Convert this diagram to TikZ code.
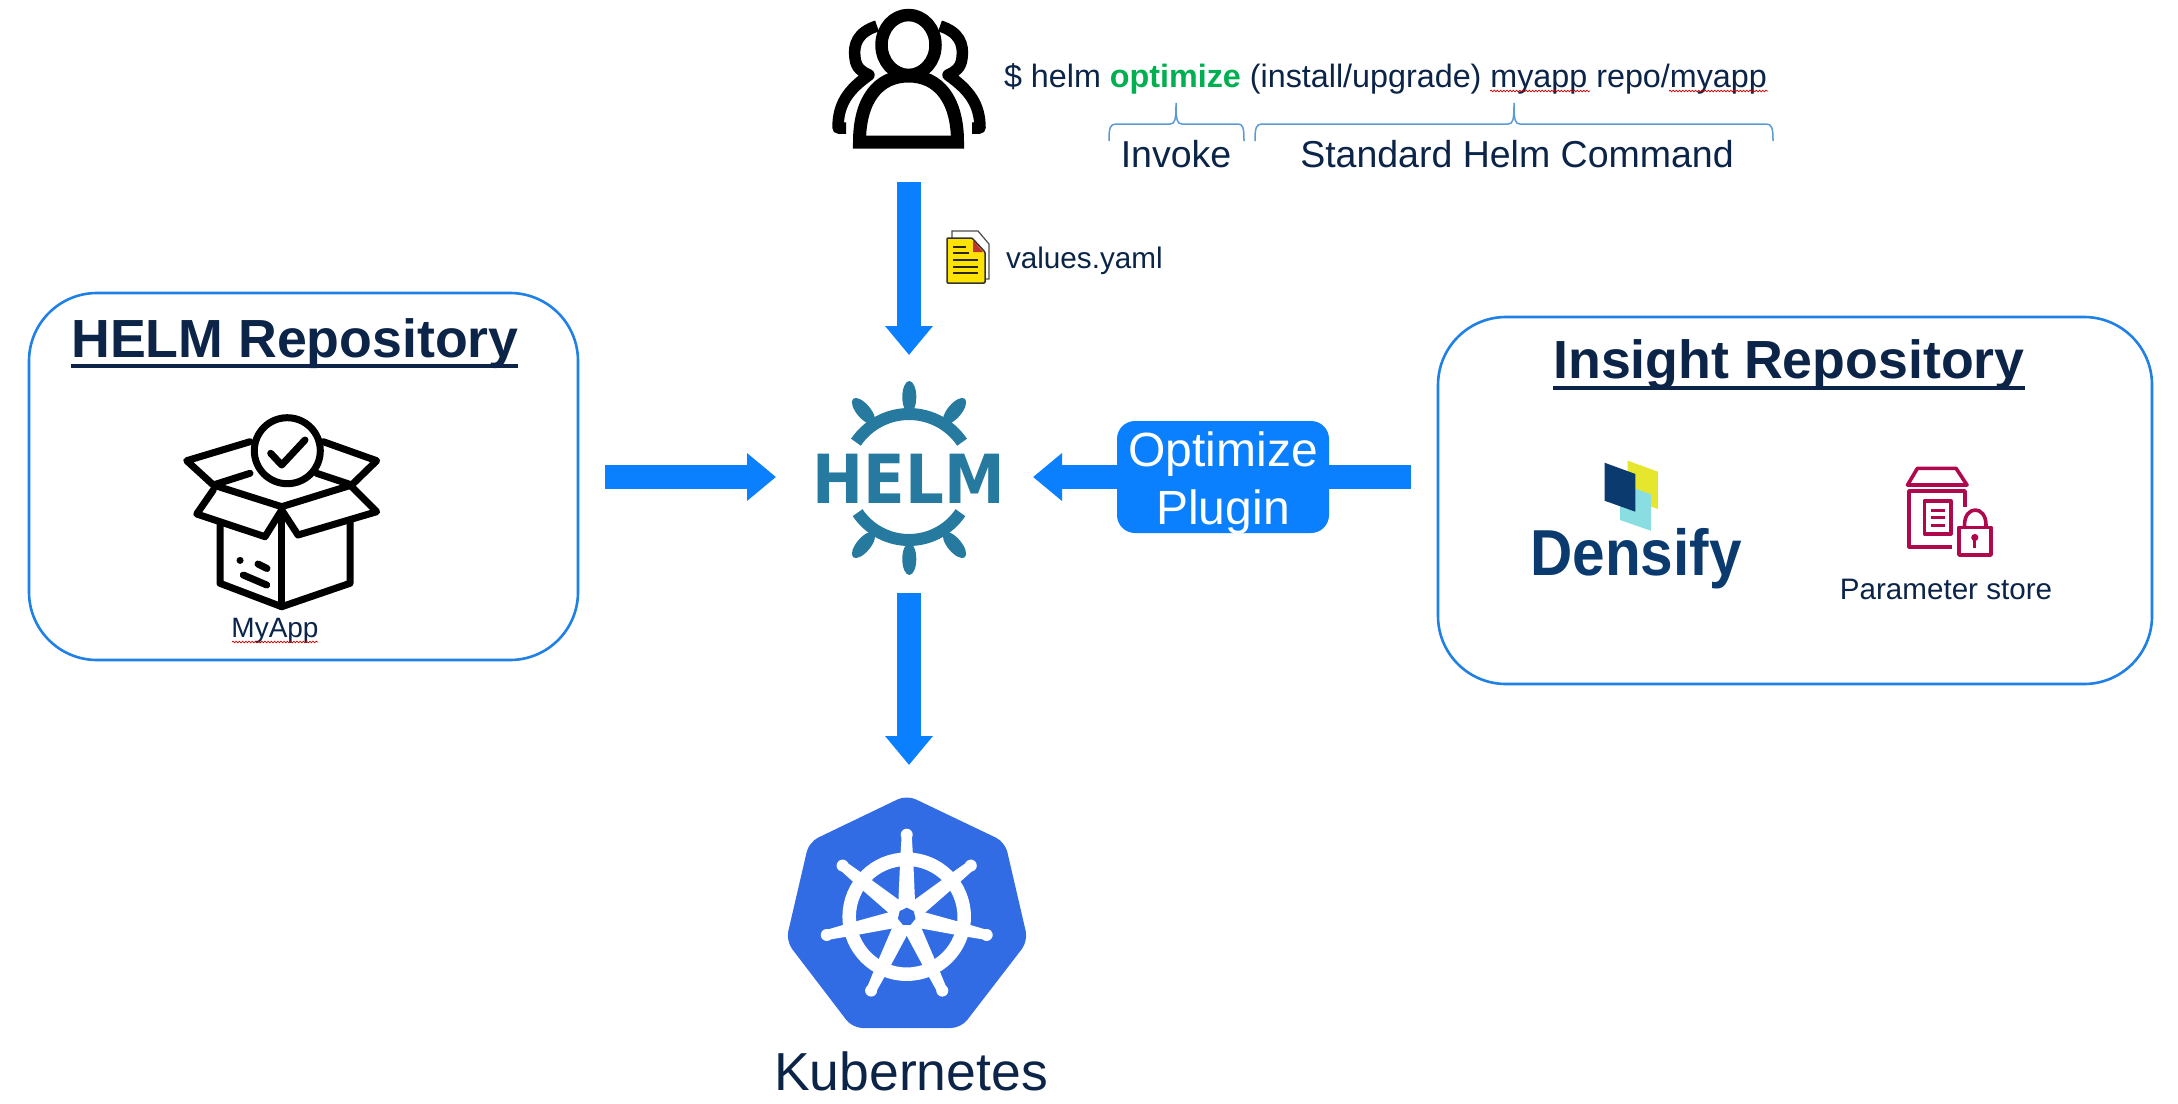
\documentclass[tikz,border=0pt]{standalone}
\usepackage{fontspec}
\setmainfont{Liberation Sans}
\newfontfamily\heavyfont{DejaVu Sans Bold}
\usetikzlibrary{arrows.meta,decorations.pathmorphing}
\newcommand\pxfont[1]{\fontsize{#1}{#1}\selectfont}
\definecolor{navy}{HTML}{0B2447}
\definecolor{flowblue}{HTML}{0A80FF}
\definecolor{boxblue}{HTML}{1F80E6}
\definecolor{bracecol}{HTML}{5B9BD5}
\definecolor{helmblue}{HTML}{277A9F}
\definecolor{kubeblue}{HTML}{326CE5}
\definecolor{greentxt}{HTML}{00B050}
\definecolor{densnavy}{HTML}{0B3A6E}
\definecolor{densyellow}{HTML}{E6E62E}
\definecolor{densteal}{HTML}{8ADDE0}
\definecolor{awsred}{HTML}{B0084D}
\tikzset{
  lbl/.style={inner sep=0pt,outer sep=0pt,anchor=base,text=navy},
  flow/.style={draw=flowblue,line width=24pt,-{Triangle[length=29pt,width=46pt,color=flowblue]}},
  repobox/.style={draw=boxblue,line width=2.6pt,rounded corners=68pt,fill=white,inner sep=0pt},
  anchorbox/.style={inner sep=0pt,outer sep=0pt},
  brace/.style={draw=bracecol,line width=1.5pt},
  squiggle/.style={draw=red!80!black,line width=0.7pt,decorate,decoration={snake,amplitude=0.8pt,segment length=3.2pt}},
  icon/.style={draw=black,line width=7pt,line cap=round,line join=round},
  person/.style={draw=black,line cap=butt,line join=round},
  aws/.style={draw=awsred,line width=3.6pt,line join=round}
}
\begin{document}
\begin{tikzpicture}[x=1pt,y=-1pt]
\useasboundingbox (0,0) rectangle (2178,1103);
\fill[white] (0,0) rectangle (2178,1103);

% boxes
\node[repobox,minimum width=549pt,minimum height=367pt] (helmrepo) at (303.5,476.5) {};
\node[repobox,minimum width=714pt,minimum height=367pt] (insight) at (1795,500.5) {};

% anchor nodes
\node[anchorbox,minimum width=160pt,minimum height=174pt] (user) at (909,95) {};
\node[anchorbox,minimum width=266pt,minimum height=244pt] (helm) at (909,477) {};
\node[anchorbox,minimum width=290pt,minimum height=280pt] (kube) at (907,905) {};

% connectors
\draw[flow] (user.south) -- (user.south |- helm.north);
\draw[flow,shorten <=26pt] (helmrepo.east |- helm.center) -- (helm.west);
\draw[flow,shorten <=26pt,shorten >=-9pt] (insight.west |- helm.center) -- (helm.east);
\draw[flow,shorten <=-6pt] (helm.south) -- (helm.south |- kube.north);

\node[fill=flowblue,rounded corners=18pt,minimum width=212pt,minimum height=112pt,inner sep=0pt] (plugin) at (1223,477) {};
\node[lbl,text=white] (plugin1) at (1223,466) {\pxfont{48}Optimize};
\node[lbl,text=white] (plugin2) at (1223,524) {\pxfont{48}Plugin};

% person icon
\draw[person,line width=12.5pt] (908.5,45) ellipse[x radius=27pt,y radius=30pt];
\draw[person,line width=13pt,line join=miter] (859.5,142) .. controls (859.5,100) and (878,76) .. (908.5,76) .. controls (939,76) and (957.5,100) .. (957.5,142) -- cycle;
\draw[person,line width=11.5pt] (877,26) .. controls (858,32) and (853,44) .. (855,58) .. controls (856,68) and (862,72) .. (869,75) .. controls (848,90) and (838,104) .. (838,128) -- (846,128);
\draw[person,line width=11.5pt] (940,26) .. controls (959,32) and (964,44) .. (962,58) .. controls (961,68) and (955,72) .. (948,75) .. controls (969,90) and (980,104) .. (980,128) -- (972,128);

% command line
\node[lbl,anchor=base west] (cmd) at (1004,87) {\pxfont{32.3}\$ helm \textbf{\textcolor{greentxt}{optimize}} (install/upgrade) myapp repo/myapp};
\draw[squiggle] (1490,91) -- (1590,91);
\draw[squiggle] (1669,91) -- (1768,91);
\draw[brace] (1109,141) .. controls (1109,128) and (1110,124) .. (1116,124) -- (1170,124) .. controls (1175,124) and (1176,120) .. (1176,103) .. controls (1176,120) and (1177,124) .. (1182,124) -- (1238,124) .. controls (1243,124) and (1244,128) .. (1244,141);
\draw[brace] (1255,141) .. controls (1255,128) and (1256,124) .. (1262,124) -- (1508,124) .. controls (1513,124) and (1514,120) .. (1514,103) .. controls (1514,120) and (1515,124) .. (1520,124) -- (1766,124) .. controls (1772,124) and (1773,128) .. (1773,141);
\node[lbl] (invoke) at (1176,167) {\pxfont{37.5}Invoke};
\node[lbl] (std) at (1517,167) {\pxfont{37.5}Standard Helm Command};

% values file
\fill[white,draw=black!70,line width=1.2pt] (952,231) -- (978,231) -- (989,244) -- (989,279) -- (952,279) -- cycle;
\fill[yellow!85!orange,draw=black!80,line width=1.5pt,rounded corners=1pt] (947,238) -- (972,238) -- (985,252) -- (985,283) -- (947,283) -- cycle;
\fill[red!70!black!80] (973,240) -- (983,252) -- (973,252) -- cycle;
\foreach \yy/\xe in {247/966,253/969,260/978,267/978,273/978}{
  \draw[black!85,line width=1.6pt] (953,\yy) -- (\xe,\yy);
}
\node[lbl,anchor=base west] (values) at (1006,268) {\pxfont{29.7}values.yaml};

% helm repository
\node[lbl] (t1) at (295,357) {\pxfont{53.7}\textbf{HELM Repository}};
\draw[navy,line width=4pt] (71,366) -- (518,366);
\begin{scope}[icon]
\draw (287.3,450.7) circle[radius=33pt];
\draw[line width=7pt] (270.7,453.3) -- (281.7,465) -- (305,440);
\draw (250,441.7) -- (186.7,460.7) -- (213.3,485) -- (250,473.3);
\draw (323.3,441.7) -- (376.7,460.7) -- (351.7,485) -- (316.7,473.3);
\draw (213.3,485) -- (281.7,506.7) -- (351.7,485);
\draw (213.3,490) -- (196.7,514) -- (265,536.7) -- (281.7,510) -- (298,535) -- (376.7,511.7) -- (351.7,486.7);
\draw (220,525) -- (220,583.3) -- (281.7,606.7) -- (350,583.3) -- (350,521.7);
\draw (281.7,510) -- (281.7,606.7);
\draw (240,560) -- (240.1,560);
\draw (258,564) -- (267,568.5);
\draw (243.3,575) -- (266.7,585);
\end{scope}
\node[lbl] (myapp) at (275,637) {\pxfont{28}MyApp};
\draw[squiggle] (232,642) -- (318,642);

% helm logo
\node[inner sep=0pt,anchor=base,text=helmblue] (helmtext) at (909,503.5) {\scalebox{0.9}[1]{\heavyfont\pxfont{67.7}HELM}};
\draw[helmblue,line width=12pt] (909,478) ++(34:64pt) arc[start angle=34,end angle=146,radius=64pt];
\draw[helmblue,line width=12pt] (909,478) ++(-34:62pt) arc[start angle=-34,end angle=-146,radius=62pt];
\foreach \cx/\cy/\ang in {909.3/397/90,863.5/411/130,954.5/411/50,909.3/559/90,863.5/545/50,954.5/545/130}{
  \fill[helmblue,shift={(\cx,\cy)},rotate=\ang] (0,0) ellipse[x radius=16pt,y radius=7pt];
}

% insight repository
\node[lbl] (t2) at (1789,378) {\pxfont{53.7}\textbf{Insight Repository}};
\draw[navy,line width=4pt] (1553,388) -- (2025,388);
\fill[densyellow] (1627.7,460.7) -- (1657.8,471.7) -- (1657.8,509) -- (1627.7,497.7) -- cycle;
\fill[densteal] (1620,483) -- (1650.8,494.3) -- (1650.8,530.7) -- (1620,520) -- cycle;
\fill[densnavy] (1604.5,462.7) -- (1635.4,474) -- (1635.4,511.7) -- (1604.5,500.7) -- cycle;
\node[inner sep=0pt,anchor=base,text=densnavy] (densify) at (1636,575) {\scalebox{0.9}[1]{\pxfont{65}\textbf{Densify}}};

\draw[aws] (1917.4,468.3) -- (1956,468.3) -- (1967,485) -- (1907.5,485) -- cycle;
\draw[aws] (1965,507) -- (1965,491) -- (1909,491) -- (1909,546.7) -- (1952,546.7);
\draw[aws] (1924.5,500.7) rectangle (1950.7,534);
\foreach \yy in {510,517.3,525}{\draw[awsred,line width=3pt] (1931,\yy) -- (1944.5,\yy);}
\draw[aws] (1959,527.3) rectangle (1991,555);
\draw[aws] (1964.5,527) -- (1964.5,525) .. controls (1964.5,505) and (1986,505) .. (1986,525) -- (1986,527);
\fill[awsred] (1974.8,537.5) circle[radius=3.6pt];
\draw[awsred,line width=2.8pt] (1974.8,538) -- (1974.8,548);
\node[lbl] (pstore) at (1946,599) {\pxfont{29.6}Parameter store};

% kubernetes logo
\fill[kubeblue,rounded corners=10pt] (906.7,795) -- (1005,842) -- (1028,941) -- (961,1028) -- (852.5,1028) -- (786,941) -- (809,842) -- cycle;
\draw[white,line width=13.5pt] (906.7,916.7) circle[radius=57.5pt];
\foreach \k in {0,...,6}{
  \begin{scope}[shift={(906.7,916.7)},rotate=\k*360/7]
    \fill[white] (-9,0) -- (-6.5,-57) -- (-5,-82) -- (5,-82) -- (6.5,-57) -- (9,0) -- cycle;
    \fill[white] (0,-82) circle[radius=6pt];
  \end{scope}
}
\fill[white] (906.7,916.7) circle[radius=17pt];
\fill[kubeblue] (906.7,907.7) -- (913.7,911.1) -- (915.5,918.7) -- (910.6,924.8) -- (902.8,924.8) -- (897.9,918.7) -- (899.7,911.1) -- cycle;
\node[lbl] (kubetext) at (911,1090) {\pxfont{53.5}Kubernetes};
\end{tikzpicture}
\end{document}
